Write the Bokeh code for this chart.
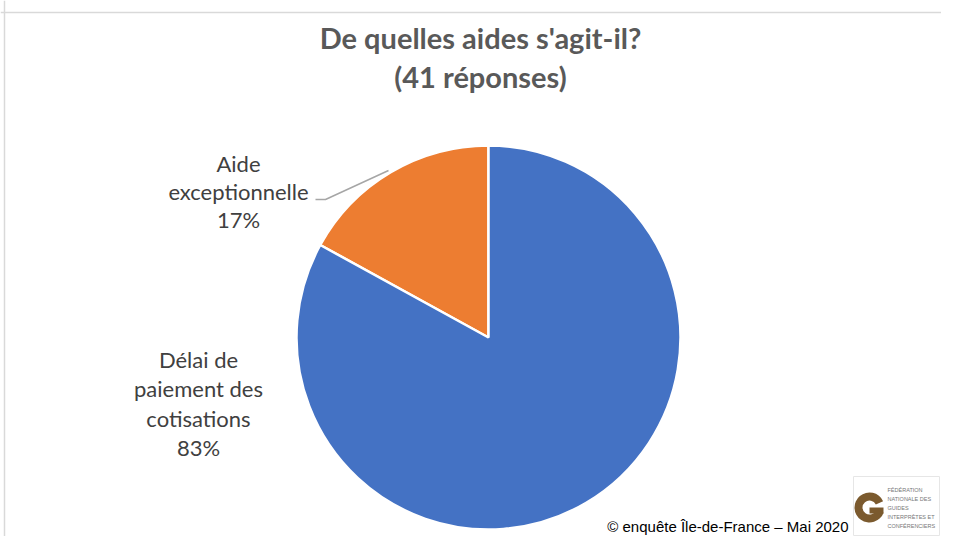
from bokeh.plotting import figure
from bokeh.models import Range1d, Span
from bokeh.embed import file_html
from bokeh.resources import INLINE
from bokeh.core.properties import value
import math

# ---- data ----
title_lines = ["De quelles aides s'agit-il?", "(41 réponses)"]
categories = ["Aide exceptionnelle", "Délai de paiement des cotisations"]
values = [17, 83]
colors = ["#ED7D31", "#4472C4"]
label_lines = [["Aide", "exceptionnelle", "17%"],
               ["Délai de", "paiement des", "cotisations", "83%"]]
footer = "© enquête Île-de-France – Mai 2020"
logo_lines = ["FÉDÉRATION", "NATIONALE DES", "GUIDES", "INTERPRÈTES ET", "CONFÉRENCIERS"]

W, H = 941, 536
p = figure(width=W, height=H, output_backend="svg", toolbar_location=None,
           x_range=Range1d(0, 941), y_range=Range1d(16, 552),
           min_border=0, outline_line_color=None)
p.axis.visible = False
p.grid.visible = False
p.background_fill_color = "white"

# frame lines
p.add_layout(Span(location=540, dimension="width", line_color="#d9d9d9", line_width=1.5))
p.add_layout(Span(location=4, dimension="height", line_color="#d9d9d9", line_width=1.5))

# pie
cx, cy, r = 488, 215, 192
total = sum(values)
start = math.pi / 2
starts, ends = [], []
for v in values:
    a = 2 * math.pi * v / total
    starts.append(start)
    ends.append(start + a)
    start += a
p.wedge(x=[cx] * len(values), y=[cy] * len(values), radius=r,
        start_angle=starts, end_angle=ends, fill_color=colors,
        line_color="white", line_width=2.5)

# title
p.text(x=[480, 480], y=[515, 476], text=title_lines, text_align="center",
       text_baseline="middle", text_font=value("Lato"), text_font_style="bold",
       text_font_size="29px", text_color="#595959")

# labels
lab_pos = [(238, 389, 28), (198, 193, 29.3)]
for lines, (lx, ly, step) in zip(label_lines, lab_pos):
    ys = [ly - i * step for i in range(len(lines))]
    p.text(x=[lx] * len(lines), y=ys, text=lines, text_align="center",
           text_baseline="middle", text_font=value("Lato"), text_font_size="22px",
           text_color="#404040")

# leader line
p.line(x=[315, 325, 388], y=[353, 353, 382], line_color="#a6a6a6", line_width=1.5)

# footer
p.text(x=[848], y=[26], text=[footer], text_align="right", text_baseline="middle",
       text_font=value("Liberation Sans"), text_font_size="15px", text_color="#000000")

# logo box
p.quad(left=[853], right=[939], bottom=[17], top=[76], fill_color="white",
       line_color="#e6e6e6", line_width=1)
p.annular_wedge(x=[869], y=[45], inner_radius=7, outer_radius=15,
                start_angle=math.radians(25), end_angle=math.radians(340),
                fill_color="#7B5A2E", line_color=None)
p.quad(left=[869], right=[883], bottom=[39], top=[45], fill_color="#7B5A2E", line_color=None)
p.text(x=[887] * len(logo_lines), y=[63 - 9 * i for i in range(len(logo_lines))],
       text=logo_lines, text_align="left", text_baseline="middle",
       text_font=value("Liberation Sans"), text_font_size="5.5px", text_color="#777777")

open("out.html", "w").write(file_html(p, INLINE))
